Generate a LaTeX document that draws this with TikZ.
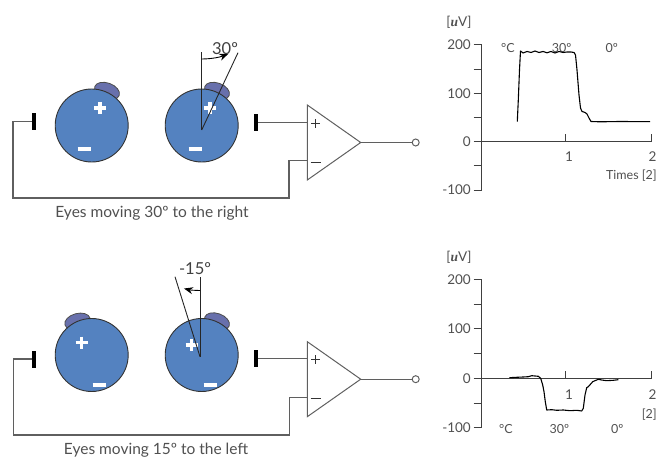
\documentclass[tikz,border=0pt]{standalone}
\usepackage{fontspec}
\setmainfont{Lato}
\newfontfamily\unitfont{Liberation Serif}
\usetikzlibrary{arrows.meta}

\definecolor{eyeblue}{RGB}{84,130,192}
\definecolor{corneablue}{RGB}{104,112,172}
\definecolor{wiregray}{RGB}{95,95,95}
\definecolor{txtgray}{RGB}{80,80,80}

\begin{document}
\begin{tikzpicture}[x=1pt,y=-1pt,
  eye/.style={circle,draw=black!80,line width=0.9pt,fill=eyeblue,minimum size=73pt,inner sep=0pt},
  corneacap/.style={fill=corneablue,draw=black!70,line width=0.8pt},
  sign/.style={white,line width=3.4pt},
  electrode/.style={rectangle,fill=black,minimum width=3.4pt,minimum height=17pt,inner sep=0pt},
  wire/.style={wiregray,line width=1.1pt},
  amp/.style={wiregray,line width=1pt,line join=miter},
  outport/.style={circle,draw=wiregray,line width=1pt,fill=white,minimum size=7pt,inner sep=0pt},
  ampsign/.style={black!80,line width=0.9pt},
  caption/.style={text=txtgray,font=\fontsize{15.5}{17}\selectfont},
  anglelbl/.style={text=black!75,font=\fontsize{16.5}{18}\selectfont},
  angleline/.style={black!85,line width=0.9pt},
  anglearrow/.style={black,line width=0.9pt,-{Stealth[length=9pt,width=7pt]}},
  axis/.style={black!75,line width=1pt},
  axlbl/.style={text=txtgray,font=\fontsize{13.5}{15}\selectfont,inner sep=0pt},
  smalllbl/.style={axlbl,font=\fontsize{12.5}{14}\selectfont},
  trace/.style={black,line width=1.1pt,line join=round}
]
\useasboundingbox (0,0) rectangle (656,462);

%% ---------- Upper panel: eyes turned 30 degrees to the right ----------
\draw[corneacap,rotate around={-20:(107,91)}] (107,91) ellipse [x radius=13, y radius=8];
\draw[corneacap,rotate around={-20:(217,91)}] (217,91) ellipse [x radius=13, y radius=8];
\node[eye] (eyeA1) at (91.7,125.5) {};
\node[eye] (eyeA2) at (201.7,125.5) {};
% polarity marks
\draw[sign] (94,108) -- (106,108) (100,102) -- (100,114);
\draw[sign] (77.5,149) -- (90.5,149);
\draw[sign] (204,108) -- (216,108) (210,102) -- (210,114);
\draw[sign] (188.5,149) -- (201.5,149);
% gaze angle
\coordinate (pivA) at (201.7,130);
\draw[angleline] (pivA) -- (201.7,52);
\draw[angleline] (pivA) -- (238,52.7);
\draw[anglearrow] (201.7,59) arc [start angle=90, end angle=68, radius=71];
\node[anglelbl] (angA) at (225,49) {30º};
% electrodes and amplifier
\node[electrode] (elA1) at (34,121.7) {};
\node[electrode] (elA2) at (256,122.3) {};
\draw[amp] (307.3,105) -- (360.7,142.5) -- (307.3,180) -- cycle;
\coordinate (ampAp) at (307.3,122.3);
\coordinate (ampAm) at (307.3,160.7);
\coordinate (ampAo) at (360.7,142.5);
\draw[ampsign] (311.2,123.5) -- (320.2,123.5) (315.7,119) -- (315.7,128);
\draw[ampsign] (310.7,162) -- (320.7,162);
\node[outport] (outA) at (415.7,142.5) {};
\draw[wire] (elA2.east) -- (ampAp);
\draw[wire] (elA1.west) -- (13,121.7) -- (13,198) -- (289,198) -- (289,160.7) -- (ampAm);
\draw[wire] (ampAo) -- (outA);
\node[caption] (capA) at (152,213) {Eyes moving 30º to the right};

%% ---------- Upper plot ----------
\draw[axis] (481.7,44.9) -- (481.7,190.1);
\draw[axis] (481.7,141.7) -- (651.7,141.7);
\foreach \yy in {44.9,69.1,93.3,117.5,141.7,165.9,190.1}
  \draw[axis] (473.5,\yy) -- (481.7,\yy);
\draw[axis] (565.7,141.7) -- (565.7,134.5);
\draw[axis] (651.3,141.7) -- (651.3,134.5);
\node[axlbl,anchor=east] (ya200) at (471,44.9) {200};
\node[axlbl,anchor=east] (ya100) at (471,93.3) {100};
\node[axlbl,anchor=east] (ya0) at (471,141.7) {0};
\node[axlbl,anchor=east] (yam100) at (471,190.1) {-100};
\node[axlbl] (unitA) at (459,22.5) {[{\unitfont\bfseries\itshape u}V]};
\node[axlbl] (xa1) at (569,157) {1};
\node[axlbl] (xa2) at (652.5,157) {2};
\node[smalllbl,anchor=east] (xaT) at (657,176) {Times [2]};
\node[smalllbl] (stA1) at (508,48.5) {°C};
\node[smalllbl] (stA2) at (561.7,48.5) {30º};
\node[smalllbl] (stA3) at (611.7,48.5) {0º};
\draw[trace] (517.3,121.7) -- (518.3,100) -- (519.5,70) -- (520.5,51) -- (523,53)
  -- (527,51.5) -- (531,52.5) -- (535,51) -- (539,52.5) -- (543,51.5) -- (547,52.8)
  -- (551,51.5) -- (555,53) -- (559,51.5) -- (563,52.5) -- (567,52) -- (571,52)
  -- (574,52.5) -- (575.5,55) -- (577,70) -- (579,95) -- (580.5,108) -- (582,111.5)
  -- (585,112.5) -- (587,114) -- (589,118) -- (591,121.5) -- (600,121.8)
  -- (620,121.5) -- (650,121.7);

%% ---------- Lower panel: eyes turned 15 degrees to the left ----------
\draw[corneacap,rotate around={15:(77.5,321.5)}] (77.5,321.5) ellipse [x radius=13, y radius=8];
\draw[corneacap,rotate around={-20:(217,321.5)}] (217,321.5) ellipse [x radius=13, y radius=8];
\node[eye] (eyeB1) at (91.7,355) {};
\node[eye] (eyeB2) at (201.7,355) {};
\draw[sign] (75.7,342.7) -- (87.7,342.7) (81.7,336.7) -- (81.7,348.7);
\draw[sign] (92.5,385) -- (105.5,385);
\draw[sign] (185.7,345) -- (197.7,345) (191.7,339) -- (191.7,351);
\draw[sign] (203.5,385) -- (216.5,385);
\coordinate (pivB) at (200,356.7);
\draw[angleline] (pivB) -- (200,276.7);
\draw[angleline] (pivB) -- (175,276.7);
\draw[anglearrow] (200,290.5) arc [start angle=90, end angle=104, radius=66.2];
\node[anglelbl] (angB) at (195,268.8) {-15º};
\node[electrode] (elB1) at (34,359) {};
\node[electrode] (elB2) at (256,358.3) {};
\draw[amp] (307.3,341.7) -- (360.7,379.2) -- (307.3,416.7) -- cycle;
\coordinate (ampBp) at (307.3,358.3);
\coordinate (ampBm) at (307.3,397.3);
\coordinate (ampBo) at (360.7,379.2);
\draw[ampsign] (311.2,359.5) -- (320.2,359.5) (315.7,355) -- (315.7,364);
\draw[ampsign] (310.7,398.5) -- (320.7,398.5);
\node[outport] (outB) at (415.7,379.2) {};
\draw[wire] (elB2.east) -- (ampBp);
\draw[wire] (elB1.west) -- (13.3,359) -- (13.3,435) -- (289.3,435) -- (289.3,397.3) -- (ampBm);
\draw[wire] (ampBo) -- (outB);
\node[caption] (capB) at (156,450) {Eyes moving 15º to the left};

%% ---------- Lower plot ----------
\draw[axis] (481.7,279.7) -- (481.7,427.6);
\draw[axis] (481.7,378.3) -- (651.7,378.3);
\foreach \yy in {279.7,304.3,329,353.6,378.3,403,427.6}
  \draw[axis] (473.5,\yy) -- (481.7,\yy);
\draw[axis] (565.7,378.3) -- (565.7,371.1);
\draw[axis] (651.3,378.3) -- (651.3,371.1);
\node[axlbl,anchor=east] (yb200) at (471,279.7) {200};
\node[axlbl,anchor=east] (yb100) at (471,329) {100};
\node[axlbl,anchor=east] (yb0) at (471,378.3) {0};
\node[axlbl,anchor=east] (ybm100) at (471,427.6) {-100};
\node[axlbl] (unitB) at (459,257.5) {[{\unitfont\bfseries\itshape u}V]};
\node[axlbl] (xb1) at (569,394.3) {1};
\node[axlbl] (xb2) at (652.5,394.3) {2};
\node[smalllbl,anchor=east] (xbT) at (657,415) {[2]};
\node[smalllbl] (stB1) at (506,429.3) {°C};
\node[smalllbl] (stB2) at (559.3,429.3) {30º};
\node[smalllbl] (stB3) at (617.3,429.3) {0º};
\draw[trace] (509.3,377.7) -- (516.7,377.3) -- (523.3,377) -- (528.3,376.7) -- (531.7,375.7)
  -- (535,376) -- (538.3,376.3) -- (540.7,378.3) -- (542.7,385) -- (544,391.7)
  -- (545.3,401.7) -- (546.7,410) -- (551.7,409.7) -- (556.7,410.3) -- (563.3,410)
  -- (570,410.7) -- (576.7,410.3) -- (581.7,411) -- (583.3,408.3) -- (585,395)
  -- (586.7,387.7) -- (588.3,386.7) -- (590.7,384) -- (592.7,381.7) -- (595,380.7)
  -- (598.3,379.3) -- (601.7,380) -- (606.7,380.7) -- (613.3,380.3) -- (618.3,379.7);
\end{tikzpicture}
\end{document}
